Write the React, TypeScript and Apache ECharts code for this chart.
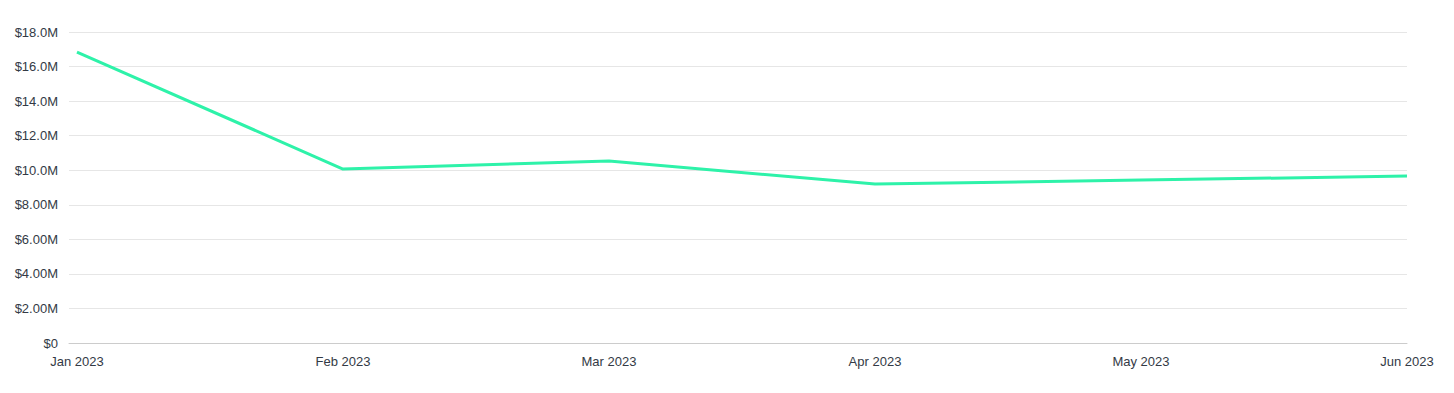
import React, { useEffect, useRef } from "react";
import * as echarts from "echarts";

const categories = ["Jan 2023", "Feb 2023", "Mar 2023", "Apr 2023", "May 2023", "Jun 2023"];
const values = [16.84e6, 10.07e6, 10.53e6, 9.2e6, 9.43e6, 9.66e6];
const yTicks = [0, 2e6, 4e6, 6e6, 8e6, 10e6, 12e6, 14e6, 16e6, 18e6];

function fmtMoney(v: number): string {
  if (v === 0) return "$0";
  const m = v / 1e6;
  const s = m >= 10 ? m.toFixed(1) : m.toFixed(2);
  return "$" + s + "M";
}

export default function App() {
  const ref = useRef<HTMLDivElement>(null);
  useEffect(() => {
    document.body.style.margin = "0";
    const chart = echarts.init(ref.current!, undefined, { renderer: "svg" });
    const font = "'Liberation Sans', Arial, Helvetica, sans-serif";
    chart.setOption({
      animation: false,
      grid: { left: 69, right: 47, top: 32, bottom: 50, containLabel: false },
      xAxis: {
        type: "value",
        min: -0.03,
        max: categories.length - 1,
        axisLine: { show: true, lineStyle: { color: "#cccccc", width: 1 } },
        axisTick: { show: false },
        splitLine: { show: false },
        axisLabel: {
          customValues: categories.map((_, i) => i),
          formatter: (v: number) => categories[Math.round(v)] ?? "",
          color: "#333a45",
          fontSize: 13,
          fontFamily: font,
          margin: 12,
          showMinLabel: true,
          showMaxLabel: true,
        },
      },
      yAxis: {
        type: "value",
        min: 0,
        max: 18e6,
        interval: 2e6,
        axisLine: { show: false },
        axisTick: { show: false },
        splitLine: { lineStyle: { color: "#e6e6e6", width: 1 } },
        axisLabel: {
          formatter: (v: number) => fmtMoney(v),
          color: "#333a45",
          fontSize: 13,
          fontFamily: font,
          margin: 11,
        },
      },
      series: [
        {
          type: "line",
          data: values.map((v, i) => [i, v]),
          showSymbol: false,
          symbol: "none",
          lineStyle: { color: "#2ef2a9", width: 3 },
          itemStyle: { color: "#2ef2a9" },
        },
      ],
    });
    void yTicks;
    return () => chart.dispose();
  }, []);
  return <div ref={ref} style={{ width: 1454, height: 393 }} />;
}
